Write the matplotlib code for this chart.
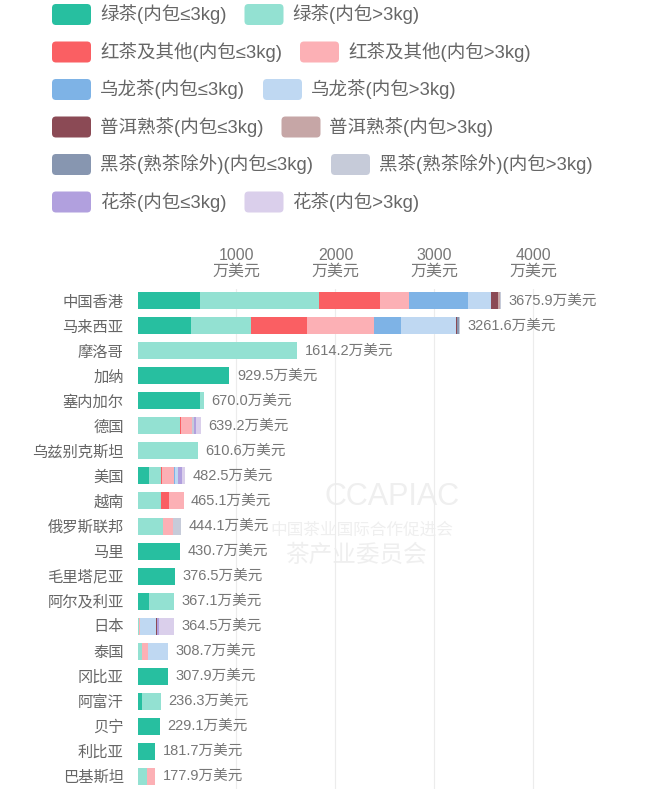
import matplotlib
matplotlib.use('Agg')
import matplotlib.pyplot as plt
from matplotlib.patches import FancyBboxPatch

plt.rcParams['font.family'] = ['Liberation Sans', 'Noto Sans CJK SC', 'DejaVu Sans']

# countries, top to bottom
countries = ['中国香港', '马来西亚', '摩洛哥', '加纳', '塞内加尔', '德国', '乌兹别克斯坦',
             '美国', '越南', '俄罗斯联邦', '马里', '毛里塔尼亚', '阿尔及利亚', '日本',
             '泰国', '冈比亚', '阿富汗', '贝宁', '利比亚', '巴基斯坦']
totals = [3675.9, 3261.6, 1614.2, 929.5, 670.0, 639.2, 610.6, 482.5, 465.1, 444.1,
          430.7, 376.5, 367.1, 364.5, 308.7, 307.9, 236.3, 229.1, 181.7, 177.9]

# values per tea type (万美元)
green_le = [633, 544, 10, 929.5, 630, 0, 0, 112, 0, 0, 430.7, 376.5, 119, 0, 0, 307.9, 45, 229.1, 181.7, 0]
green_gt = [1205, 605, 1604.2, 0, 40, 430, 610.6, 126, 235, 256, 0, 0, 248.1, 15, 42, 0, 191.3, 0, 0, 100]
red_le = [613, 567, 0, 0, 0, 10, 0, 7, 85, 0, 0, 0, 0, 0, 0, 0, 0, 0, 0, 0]
red_gt = [296, 677, 0, 0, 0, 110, 0, 122, 145.1, 103, 0, 0, 0, 15, 62, 0, 0, 0, 0, 77.9]
oolong_le = [589, 267, 0, 0, 0, 0, 0, 15, 0, 0, 0, 0, 0, 0, 0, 0, 0, 0, 0, 0]
oolong_gt = [232, 557, 0, 0, 0, 0, 0, 30, 0, 0, 0, 0, 0, 160, 204.7, 0, 0, 0, 0, 0]
puer_le = [75, 8, 0, 0, 0, 0, 0, 0, 0, 0, 0, 0, 0, 10, 0, 0, 0, 0, 0, 0]
puer_gt = [15, 0, 0, 0, 0, 0, 0, 0, 0, 0, 0, 0, 0, 0, 0, 0, 0, 0, 0, 0]
dark_le = [4, 25, 0, 0, 0, 0, 0, 0, 0, 0, 0, 0, 0, 0, 0, 0, 0, 0, 0, 0]
dark_gt = [6, 4, 0, 0, 0, 25, 0, 0, 0, 85.1, 0, 0, 0, 0, 0, 0, 0, 0, 0, 0]
flower_le = [3, 4, 0, 0, 0, 20, 0, 40, 0, 0, 0, 0, 0, 15, 0, 0, 0, 0, 0, 0]
flower_gt = [4.9, 3.6, 0, 0, 0, 44.2, 0, 30.5, 0, 0, 0, 0, 0, 149.5, 0, 0, 0, 0, 0, 0]

series_names = ['绿茶(内包≤3kg)', '绿茶(内包>3kg)',
                '红茶及其他(内包≤3kg)', '红茶及其他(内包>3kg)',
                '乌龙茶(内包≤3kg)', '乌龙茶(内包>3kg)',
                '普洱熟茶(内包≤3kg)', '普洱熟茶(内包>3kg)',
                '黑茶(熟茶除外)(内包≤3kg)', '黑茶(熟茶除外)(内包>3kg)',
                '花茶(内包≤3kg)', '花茶(内包>3kg)']
series_vals = [green_le, green_gt, red_le, red_gt, oolong_le, oolong_gt,
               puer_le, puer_gt, dark_le, dark_gt, flower_le, flower_gt]
colors = ['#27bfa0', '#93e1d2', '#fa5f63', '#fcb0b5', '#7eb3e6', '#bfd8f2',
          '#8b4a55', '#c6a6a6', '#8796b0', '#c6cbd9', '#b1a0de', '#dacfeb']

W, H = 646, 800
fig = plt.figure(figsize=(W / 100, H / 100), dpi=100)

# overlay in pixel units for legend and watermark
lax = fig.add_axes([0, 0, 1, 1])
lax.set_xlim(0, W)
lax.set_ylim(H, 0)
lax.axis('off')
lax.set_zorder(0)

# watermark
lax.text(392, 497, 'CCAPIAC', fontsize=22, color='#efefef', ha='center', va='center')
lax.text(362, 530, '中国茶业国际合作促进会', fontsize=12, color='#efefef', ha='center', va='center')
lax.text(356, 556, '茶产业委员会', fontsize=17, color='#efefef', ha='center', va='center')

# legend: two per row
renderer = fig.canvas.get_renderer()
for row in range(6):
    yc = 14.5 + 37.5 * row
    x = 52
    for col in range(2):
        k = row * 2 + col
        lax.add_patch(FancyBboxPatch((x, yc - 10.5), 39, 21,
                                     boxstyle='round,pad=0,rounding_size=4',
                                     fc=colors[k], ec='none'))
        t = lax.text(x + 48, yc, series_names[k], fontsize=13.3, color='#666666',
                     ha='left', va='center')
        bb = t.get_window_extent(renderer=renderer)
        x = bb.x1 + 18

# bar chart
ax = fig.add_axes([137.5 / W, 1 - 788.5 / H, 480 / W, 500 / H])
ax.set_zorder(1)
ax.patch.set_alpha(0)
y = list(range(len(countries)))
left = [0.0] * len(countries)
for vals, c in zip(series_vals, colors):
    ax.barh(y, vals, left=left, height=0.68, color=c, edgecolor='none', zorder=2)
    left = [a + b for a, b in zip(left, vals)]

for i, tot in enumerate(totals):
    ax.text(left[i] + 75, i, f'{tot:.1f}万美元', fontsize=10.5, color='#777777',
            ha='left', va='center')

ax.set_xlim(0, 4850)
ax.set_ylim(len(countries) - 0.5, -0.5)
ax.set_yticks(y)
ax.set_yticklabels(countries)
ax.tick_params(axis='y', length=0, pad=10, labelsize=11, labelcolor='#666666')

ax.xaxis.tick_top()
ax.set_xticks([1000, 2000, 3000, 4000])
ax.set_xticklabels([f'{v}\n万美元' for v in [1000, 2000, 3000, 4000]])
ax.tick_params(axis='x', length=0, pad=7, labelsize=11.5, labelcolor='#777777')
for lbl in ax.get_xticklabels():
    lbl.set_linespacing(1.05)

ax.grid(axis='x', color='#ececec', lw=0.8, zorder=0)
ax.set_axisbelow(True)
for s in ax.spines.values():
    s.set_visible(False)

fig.savefig('out.png', dpi=100)
